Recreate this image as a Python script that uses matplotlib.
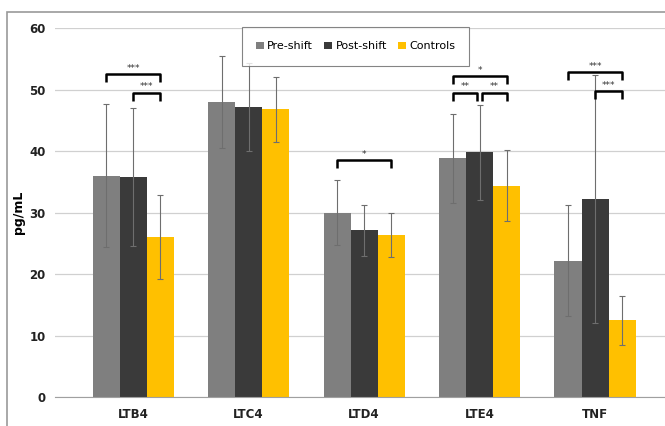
import numpy as np
import matplotlib.pyplot as plt
from matplotlib.patches import Rectangle

# datos
categorias = ["LTB4", "LTC4", "LTD4", "LTE4", "TNF"]
series = ["Pre-shift", "Post-shift", "Controls"]
colores = ["#7f7f7f", "#3a3a3a", "#ffc000"]

pre = [36.0, 48.0, 30.0, 38.8, 22.2]
post = [35.8, 47.2, 27.1, 39.8, 32.2]
controles = [26.0, 46.8, 26.4, 34.4, 12.5]

err_pre = [11.6, 7.5, 5.3, 7.3, 9.1]
err_post = [11.2, 7.2, 4.2, 7.7, 20.1]
err_controles = [6.8, 5.3, 3.6, 5.8, 4.0]

# (categoría, serie inicial, serie final, altura, texto)
significancia = [
    (0, 0, 2, 52.5, "***"),
    (0, 1, 2, 49.5, "***"),
    (2, 0, 2, 38.5, "*"),
    (3, 0, 2, 52.2, "*"),
    (3, 0, 1, 49.5, "**"),
    (3, 1, 2, 49.5, "**"),
    (4, 0, 2, 52.8, "***"),
    (4, 1, 2, 49.8, "***"),
]

valores = [pre, post, controles]
errores = [err_pre, err_post, err_controles]

fig = plt.figure(figsize=(6.65, 4.26), dpi=100)
ax = fig.add_axes([0.083, 0.068, 0.917, 0.866])

x = np.arange(len(categorias))
ancho = 0.234

for i in range(3):
    pos = x + (i - 1) * ancho
    ax.bar(pos, valores[i], width=ancho, color=colores[i], label=series[i],
           zorder=2)
    ax.errorbar(pos, valores[i], yerr=errores[i], fmt="none",
                ecolor="#6e6e6e", elinewidth=0.8, capsize=2.5,
                capthick=0.8, zorder=3)

# corchetes de significancia
for cat, s1, s2, h, txt in significancia:
    x1 = cat + (s1 - 1) * ancho
    x2 = cat + (s2 - 1) * ancho
    if s1 == 1 and s2 == 2 and cat == 3:
        x1 += 0.02
    if s1 == 0 and s2 == 1 and cat == 3:
        x2 -= 0.02
    ax.plot([x1, x1, x2, x2], [h - 1.3, h, h, h - 1.3], color="black",
            lw=1.8, zorder=4, solid_capstyle="butt")
    ax.text((x1 + x2) / 2, h + 0.2, txt, ha="center", va="bottom",
            fontsize=6.5, color="#333333")

ax.set_xlim(-0.675, 4.606)
ax.set_ylim(0, 60)
ax.set_yticks(range(0, 61, 10))
ax.set_xticks(x)
ax.set_xticklabels(categorias)
ax.yaxis.grid(True, color="#d0d0d0", lw=0.9, zorder=0)
ax.set_axisbelow(True)

for lado in ["top", "right", "left"]:
    ax.spines[lado].set_visible(False)
ax.spines["bottom"].set_color("#a0a0a0")

ax.tick_params(axis="y", length=0, labelsize=8.5, pad=7)
ax.tick_params(axis="x", length=0, labelsize=8.5, pad=8)
for t in ax.get_xticklabels() + ax.get_yticklabels():
    t.set_fontweight("bold")
    t.set_color("#222222")

ax.set_ylabel("pg/mL", fontsize=9, fontweight="bold", labelpad=3)

leg = ax.legend(loc="upper left", bbox_to_anchor=(0.306, 1.003), ncol=3,
                fontsize=8, frameon=True, fancybox=False, handlelength=0.7,
                handleheight=0.7, handletextpad=0.3, columnspacing=1.0,
                borderpad=1.3, borderaxespad=0)
leg.get_frame().set_edgecolor("#666666")
leg.get_frame().set_linewidth(0.8)

# marco exterior de la imagen
fig.patches.append(Rectangle((0.011, -0.1), 1.1, 1.072, transform=fig.transFigure,
                             fill=False, edgecolor="#999999", lw=1.2))

fig.savefig("out.png", dpi=100)
